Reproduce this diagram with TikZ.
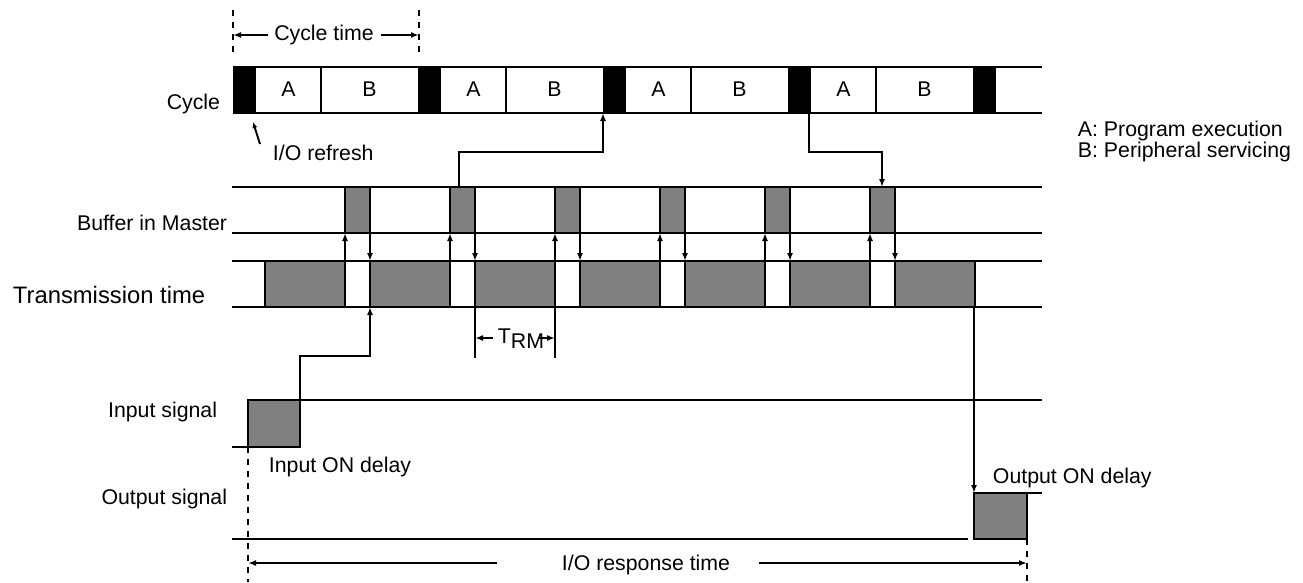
\documentclass[tikz,border=0pt]{standalone}
\usepackage{fontspec}
\setmainfont{Liberation Sans}
\usetikzlibrary{arrows.meta}
\definecolor{boxgray}{RGB}{128,128,128}
\begin{document}
\begin{tikzpicture}[x=1pt,y=-1pt,line width=1.9pt,
  lbl/.style={inner sep=0pt,font=\fontsize{21.3}{25}\selectfont},
  biglbl/.style={inner sep=0pt,font=\fontsize{23.8}{28}\selectfont},
  tip/.style={-{Latex[length=8pt,width=6pt]}},
  smalltip/.style={-{Latex[length=6pt,width=5pt]}},
  dashv/.style={dash pattern=on 6pt off 6pt},
  graybox/.style={draw=black,fill=boxgray}]
\useasboundingbox (0,0) rectangle (1303,582);

% ---------------- Cycle row ----------------
\foreach \s in {233,418,603,788,973} {
  \fill (\s,67) rectangle (\s+23,113);
}
\foreach \s [count=\i] in {233,418,603,788} {
  \draw (\s+88,67) -- (\s+88,113);
  \node[lbl,anchor=base] (A\i) at (\s+55.5,96) {A};
  \node[lbl,anchor=base] (B\i) at (\s+136.5,96) {B};
}
\draw (233,67) -- (1042,67);
\draw (233,113) -- (1042,113);
\node[lbl,anchor=base east] (cyc) at (221,109) {Cycle};

% cycle time dimension
\draw[dashv] (233,10) -- (233,56);
\draw[dashv] (419,10) -- (419,56);
\node[lbl,anchor=center] (ct) at (324,35) {Cycle time};
\coordinate (ctl) at (233,35);
\coordinate (ctr) at (419,35);
\draw[tip] (ct.west)++(-5,0) -- (ctl);
\draw[tip] (ct.east)++(6,0) -- (ctr);

% I/O refresh
\node[lbl,anchor=base west] (iore) at (272,160) {I/O refresh};
\coordinate (ior1) at (260,144);
\coordinate (ior2) at (253,122);
\draw[smalltip] (ior1) -- (ior2);

% legend
\node[lbl,anchor=base west] (lgA) at (1077,136) {A: Program execution};
\node[lbl,anchor=base west] (lgB) at (1077,157) {B: Peripheral servicing};

% ---------------- Buffer row ----------------
\draw (232,187) -- (1042,187);
\draw (232,233) -- (1042,233);
\foreach \i in {0,...,5} {
  \filldraw[graybox] (345+105*\i,187) rectangle (370+105*\i,233);
}
\node[lbl,anchor=base east] (buf) at (228,230) {Buffer in Master};

% ---------------- Transmission row ----------------
\draw (232,261) -- (1042,261);
\draw (232,307) -- (1042,307);
\foreach \i in {0,...,6} {
  \filldraw[graybox] (265+105*\i,261) rectangle (345+105*\i,307);
}
\node[biglbl,anchor=base west] (tx) at (12,303) {Transmission time};

% arrows between buffer and transmission
\foreach \i in {0,...,5} {
  \draw[tip] (345+105*\i,261) -- (345+105*\i,233);
  \draw[tip] (370+105*\i,233) -- (370+105*\i,261);
}

% cycle <-> buffer connectors
\coordinate (up0) at (459,187);
\coordinate (up1) at (459,152);
\coordinate (up2) at (603,152);
\coordinate (up3) at (603,113);
\draw[tip] (up0) -- (up1) -- (up2) -- (up3);
\coordinate (dn0) at (809,113);
\coordinate (dn1) at (809,152);
\coordinate (dn2) at (882,152);
\coordinate (dn3) at (882,187);
\draw[tip] (dn0) -- (dn1) -- (dn2) -- (dn3);

% T_RM dimension
\draw (475,307) -- (475,358);
\draw (555,307) -- (555,358);
\node[lbl,anchor=base west] (trm) at (497,343) {T\raisebox{-5pt}{RM}};
\coordinate (trml) at (475,338);
\coordinate (trmr) at (555,338);
\draw[tip] (493,338) -- (trml);
\draw[tip] (538,338) -- (trmr);

% ---------------- Input signal ----------------
\draw (232,447) -- (248,447);
\filldraw[graybox] (248,400) rectangle (300,447);
\draw (300,400) -- (1042,400);
\node[lbl,anchor=base east] (ins) at (218,417) {Input signal};
\node[lbl,anchor=base west] (ind) at (268,472) {Input ON delay};
\coordinate (st0) at (300,400);
\coordinate (st1) at (300,356);
\coordinate (st2) at (370,356);
\coordinate (st3) at (370,307);
\draw[tip] (st0) -- (st1) -- (st2) -- (st3);

% ---------------- Output signal ----------------
\draw (232,539) -- (968,539);
\filldraw[graybox] (974,493) rectangle (1027,539);
\draw (974,493) -- (1042,493);
\node[lbl,anchor=base east] (outs) at (228,504) {Output signal};
\node[lbl,anchor=base west] (outd) at (992,483) {Output ON delay};
\coordinate (o0) at (974,307);
\coordinate (o1) at (974,493);
\draw[tip] (o0) -- (o1);

% I/O response time
\draw[dashv] (248,447) -- (248,582);
\draw[dashv] (1027,539) -- (1027,582);
\node[lbl,anchor=base] (resp) at (646,570) {I/O response time};
\coordinate (rl) at (248,563);
\coordinate (rr) at (1027,563);
\draw[tip] (497,563) -- (rl);
\draw[tip] (759,563) -- (rr);
\end{tikzpicture}
\end{document}
